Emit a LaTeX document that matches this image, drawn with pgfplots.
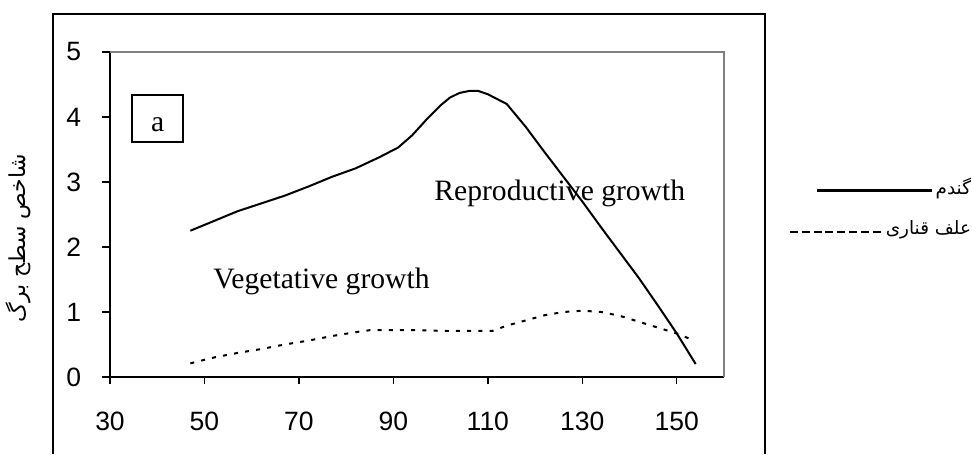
\documentclass[border=0pt]{standalone}
\usepackage{fontspec}
\setmainfont{Liberation Serif}
\newfontfamily\arialfont{Liberation Sans}
\newfontfamily\arabicfont[Script=Arabic]{DejaVu Sans}
\TeXXeTstate=1
\usepackage{pgfplots}
\pgfplotsset{compat=1.18}
\newcommand{\onedash}{\rule[0.6pt]{4pt}{0.85pt}\kern1.93pt}
\newcommand{\dashsample}{\hbox{\onedash\onedash\onedash\onedash\onedash\onedash\onedash\rule[0.6pt]{4pt}{0.85pt}}}
\pgfplotstableread{
x y
47 2.25
52 2.40
57 2.55
62 2.67
67 2.79
72 2.93
77 3.08
82 3.21
87 3.38
91 3.53
94 3.72
97 3.96
100 4.18
102 4.30
104 4.37
106 4.40
108 4.40
110 4.35
114 4.20
118 3.85
122 3.46
126 3.08
130 2.70
134 2.30
138 1.91
142 1.52
146 1.10
150 0.67
154 0.20
}\wheat
\pgfplotstableread{
x y
47 0.21
52 0.30
57 0.37
62 0.43
67 0.50
72 0.56
77 0.63
82 0.69
85 0.72
90 0.72
95 0.72
100 0.71
105 0.71
111 0.71
114 0.79
118 0.87
122 0.95
126 1.00
130 1.02
134 1.00
138 0.94
142 0.85
146 0.76
150 0.67
153 0.58
}\canary
\begin{document}
\begin{tikzpicture}
\begin{axis}[
  scale only axis, width=307pt, height=162.5pt,
  xmin=30, xmax=160, ymin=0, ymax=5,
  xtick={30,50,...,150}, ytick={0,1,...,5},
  tick align=outside, tick pos=left,
  major tick length=3.75pt,
  every tick/.style={black, line width=0.65pt},
  axis line style={draw=none},
  clip=false,
  /pgf/number format/assume math mode=true,
  ticklabel style={font=\arialfont\fontsize{13.25}{15}\selectfont},
  xticklabel style={anchor=north, inner sep=0pt, yshift=-13.5pt},
  yticklabel style={anchor=east, inner sep=0pt, xshift=-10.5pt},
  ylabel={\beginR شاخص سطح برگ\endR},
  ylabel style={at={(axis description cs:-0.1498,0.428)}, anchor=center, font=\arabicfont\fontsize{11}{13}\selectfont},
  legend plot pos=none,
  legend cell align=right,
  legend style={at={(axis description cs:1.4023,0.606)}, anchor=north east, draw=none, fill=none, inner sep=0pt, outer sep=0pt, row sep=10pt,
    nodes={inner sep=0pt, font=\arabicfont\fontsize{9.2}{11}\selectfont, text height=7pt, text depth=3pt}},
]
\draw[black, line width=0.65pt] (rel axis cs:0,1) -- (rel axis cs:0,0) -- (rel axis cs:1,0);
\draw[gray, line width=0.65pt] (rel axis cs:0,1) -- (rel axis cs:1,1) -- (rel axis cs:1,0);
\node[draw, line width=0.75pt, minimum width=25.5pt, minimum height=23.5pt, inner sep=0pt] at (axis cs:40.06,3.98) {};
\node[font=\fontsize{14.8}{17}\selectfont, inner sep=0pt] at (axis cs:40.1,3.877) {a};
\node[anchor=base west, inner sep=0pt, font=\fontsize{14.8}{17}\selectfont] at (axis cs:98.6,2.723) {Reproductive growth};
\node[anchor=base west, inner sep=0pt, font=\fontsize{14.8}{17}\selectfont] at (axis cs:51.8,1.354) {Vegetative growth};
\addplot[black, line width=1pt] table[x=x,y=y] {\wheat};
\addlegendentry{\hbox{\rule[0.85pt]{57.5pt}{1.6pt}\kern2pt}\beginR گندم\endR}
\addplot[black, line width=1pt, dash pattern=on 2pt off 3.6pt] table[x=x,y=y] {\canary};
\addlegendentry{\hbox{\dashsample\kern2.5pt}\beginR علف قناری\endR}
\end{axis}
\draw[line width=0.65pt] (-28.5pt,-38.5pt) -- (-28.5pt,181.5pt) -- (327.5pt,181.5pt) -- (327.5pt,-38.5pt);
\pgfresetboundingbox
\path[use as bounding box] (-55pt,-38.5pt) rectangle (431pt,188.5pt);
\end{tikzpicture}
\end{document}
